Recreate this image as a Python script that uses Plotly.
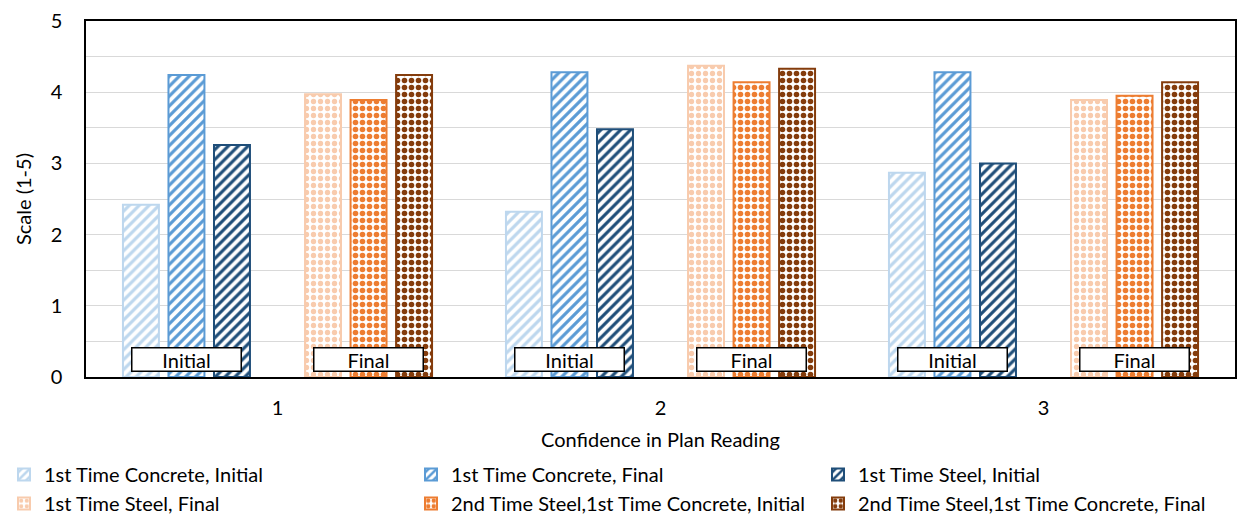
import plotly.graph_objects as go

# Survey categories and mean scores per group
categories = ["1", "2", "3"]
concrete_1st_initial = [2.42, 2.32, 2.87]
concrete_1st_final = [4.24, 4.28, 4.28]
steel_1st_initial = [3.26, 3.48, 3.00]
steel_1st_final = [3.97, 4.37, 3.89]
steel_2nd_initial = [3.89, 4.14, 3.95]
steel_2nd_final = [4.24, 4.33, 4.14]

phase_labels = ["Initial", "Final"]

FONT = "Lato, Carlito, 'Liberation Sans', sans-serif"

series = [
    ("1st Time Concrete, Initial", concrete_1st_initial, "#BDD7EE", "/", 0.45),
    ("1st Time Concrete, Final", concrete_1st_final, "#5B9BD5", "/", 0.45),
    ("1st Time Steel, Initial", steel_1st_initial, "#1F4E79", "/", 0.45),
    None,  # empty slot separating the initial and final sets
    ("1st Time Steel, Final", steel_1st_final, "#F8CBAD", ".", 0.45),
    ("2nd Time Steel,1st Time Concrete, Initial", steel_2nd_initial, "#ED7D31", ".", 0.5),
    ("2nd Time Steel,1st Time Concrete, Final", steel_2nd_final, "#843C0C", ".", 0.5),
]

fig = go.Figure()
for s in series:
    if s is None:
        fig.add_trace(go.Bar(
            x=categories, y=[0] * len(categories), showlegend=False,
            hoverinfo="skip", marker=dict(color="rgba(0,0,0,0)", line=dict(width=0)),
        ))
        continue
    name, vals, color, shape, solidity = s
    fig.add_trace(go.Bar(
        x=categories, y=vals, name=name,
        marker=dict(
            color="white",
            line=dict(color=color, width=2),
            pattern=dict(shape=shape, fgcolor=color, bgcolor="white",
                         size=7, solidity=solidity, fillmode="replace"),
        ),
    ))

# Phase labels boxed near the base of each half-group
n_slots = len(series)
bargap = 0.168
slot = (1 - bargap) / n_slots
annotations = []
for i, _ in enumerate(categories):
    for label, k in zip(phase_labels, (1, 5)):
        annotations.append(dict(
            x=i + (k - (n_slots - 1) / 2) * slot, y=0.24, xref="x", yref="y",
            text=label, showarrow=False, width=106, height=20,
            font=dict(family=FONT, size=20, color="black"),
            bgcolor="white", bordercolor="black", borderwidth=1.5, borderpad=1,
        ))

plot_l, plot_w, plot_t, plot_h = 86, 1149, 21, 356

fig.update_layout(
    width=1241, height=518,
    margin=dict(l=plot_l, r=1241 - plot_l - plot_w, t=plot_t,
                b=518 - plot_t - plot_h, autoexpand=False),
    paper_bgcolor="white", plot_bgcolor="white",
    barmode="group", bargap=bargap, bargroupgap=0.21,
    font=dict(family=FONT, size=20, color="black"),
    annotations=annotations,
    legend=dict(
        orientation="h",
        x=(4 - plot_l) / plot_w, y=-(455 - plot_t - plot_h) / plot_h,
        xanchor="left", yanchor="top",
        entrywidth=362, entrywidthmode="pixels",
        font=dict(family=FONT, size=20), itemwidth=30, traceorder="normal",
    ),
    showlegend=True,
)
fig.update_xaxes(
    showline=True, linecolor="black", linewidth=1.5, mirror=True,
    ticks="", ticklabelstandoff=12, tickfont=dict(size=20),
    title=dict(text="Confidence in Plan Reading", font=dict(size=20), standoff=15),
)
fig.update_yaxes(
    range=[0, 5], dtick=1, showline=True, linecolor="black", linewidth=1.5, mirror=True,
    showgrid=True, gridcolor="#D9D9D9", gridwidth=1, zeroline=False,
    minor=dict(dtick=0.5, showgrid=True, gridcolor="#D9D9D9", gridwidth=1),
    tickfont=dict(size=20), ticklabelstandoff=18,
    title=dict(text="Scale (1-5)", font=dict(size=20), standoff=14),
)

fig.write_html("out.html")
